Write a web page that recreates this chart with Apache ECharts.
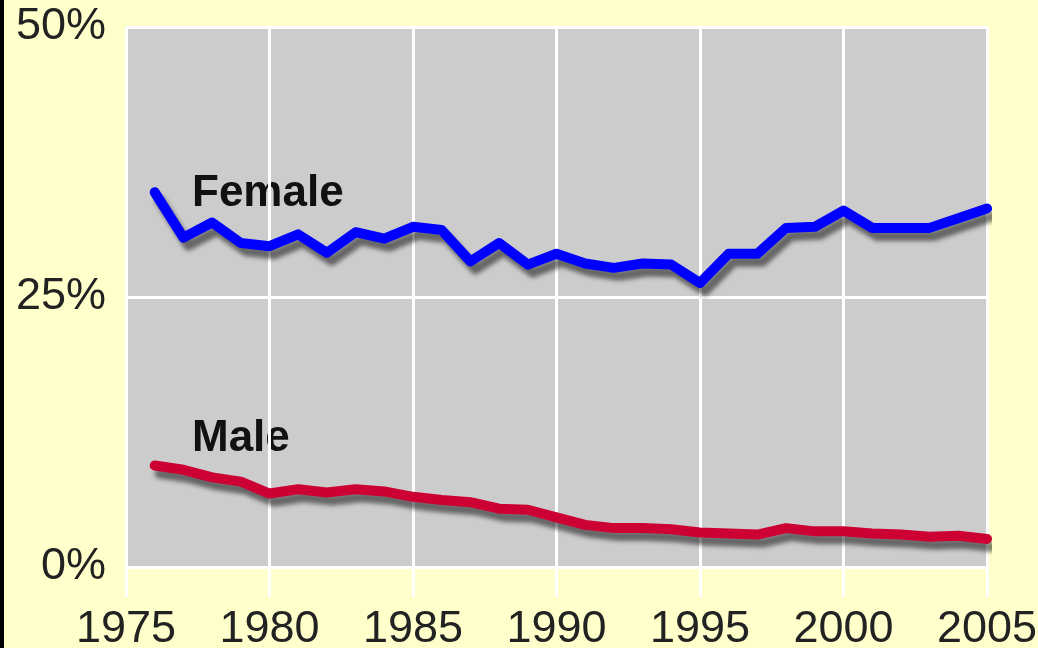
<!DOCTYPE html>
<html>
<head>
<meta charset="utf-8">
<script src="https://cdn.jsdelivr.net/npm/echarts@6/dist/echarts.min.js"></script>
<style>
  html, body { margin: 0; padding: 0; background: #ffffcc; }
  #chart { width: 1038px; height: 648px; }
</style>
</head>
<body>
<div id="chart"></div>
<script>
// years and shares (%)
const years = [1976, 1977, 1978, 1979, 1980, 1981, 1982, 1983, 1984, 1985,
  1986, 1987, 1988, 1989, 1990, 1991, 1992, 1993, 1994, 1995,
  1996, 1997, 1998, 1999, 2000, 2001, 2002, 2003, 2004, 2005];
const female = [34.7, 30.5, 31.9, 30.0, 29.7, 30.8, 29.1, 31.0, 30.4, 31.5,
  31.2, 28.3, 30.0, 28.0, 29.0, 28.1, 27.7, 28.1, 28.0, 26.3,
  29.0, 29.0, 31.4, 31.5, 33.0, 31.4, 31.4, 31.4, 32.3, 33.2];
const male = [9.4, 9.0, 8.3, 7.9, 6.8, 7.2, 6.9, 7.2, 7.0, 6.5,
  6.2, 6.0, 5.4, 5.3, 4.6, 3.9, 3.6, 3.6, 3.5, 3.2,
  3.1, 3.0, 3.6, 3.3, 3.3, 3.1, 3.0, 2.8, 2.9, 2.6];
const yTicks = [0, 25, 50];

const chart = echarts.init(document.getElementById('chart'));

const font = '"Liberation Sans", Arial, sans-serif';

function lineSeries(name, values, color) {
  return {
    name: name,
    type: 'line',
    data: years.map((y, i) => [y, values[i]]),
    symbol: 'none',
    silent: true,
    lineStyle: {
      color: color,
      width: 10,
      join: 'round',
      cap: 'round',
      shadowColor: 'rgba(0,0,0,0.5)',
      shadowBlur: 4,
      shadowOffsetX: 5,
      shadowOffsetY: 8
    }
  };
}

const option = {
  backgroundColor: '#ffffcc',
  animation: false,
  grid: {
    left: 126, right: 51, top: 27, bottom: 81,
    outerBoundsMode: 'none',
    containLabel: false,
    show: true,
    backgroundColor: '#cccccc',
    borderWidth: 0
  },
  xAxis: {
    type: 'value',
    min: 1975, max: 2005, interval: 5,
    axisLine: { show: false },
    axisTick: { show: true, length: 30, lineStyle: { color: '#ffffff', width: 3 } },
    axisLabel: {
      color: '#222', fontSize: 45, fontFamily: font, margin: 40,
      formatter: v => String(v)
    },
    splitLine: { show: true, lineStyle: { color: '#ffffff', width: 3 } }
  },
  yAxis: {
    type: 'value',
    min: 0, max: 50, interval: 25,
    axisLine: { show: false },
    axisTick: { show: false },
    axisLabel: {
      color: '#222', fontSize: 45, fontFamily: font, margin: 20,
      formatter: v => yTicks.includes(v) ? v + '%' : ''
    },
    splitLine: { show: true, lineStyle: { color: '#ffffff', width: 3 } }
  },
  graphic: [
    { type: 'rect', left: 0, top: 0, shape: { width: 4, height: 648 }, style: { fill: '#000' } },
    { type: 'text', left: 192, top: 172, style: { text: 'Female', fill: '#111', font: 'bold 44px ' + font } },
    { type: 'text', left: 192, top: 417, style: { text: 'Male', fill: '#111', font: 'bold 44px ' + font } }
  ],
  series: [
    lineSeries('Female', female, '#0000ff'),
    lineSeries('Male', male, '#cc0033')
  ]
};

chart.setOption(option);
</script>
</body>
</html>
